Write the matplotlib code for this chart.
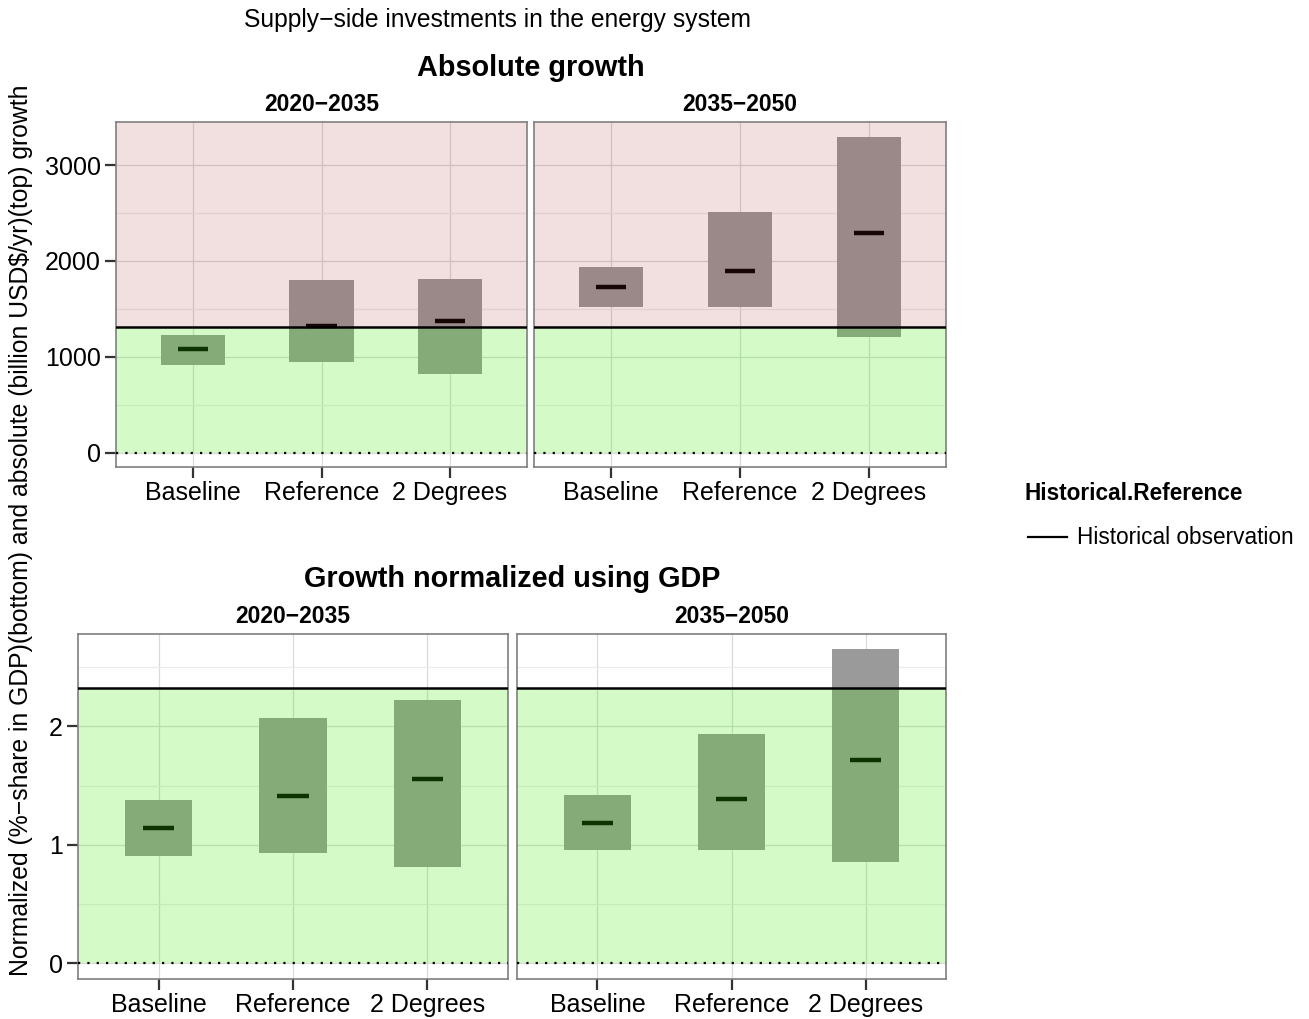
import matplotlib
matplotlib.use('Agg')
import matplotlib.pyplot as plt
import matplotlib.lines as mlines
import numpy as np

plt.rcParams['font.family'] = ['Liberation Sans', 'DejaVu Sans']

scenarios = ['Baseline', 'Reference', '2 Degrees']
periods = ['2020\u22122035', '2035\u22122050']

# absolute growth (billion USD$/yr)
abs_2020_low = [917, 945, 823]
abs_2020_med = [1080, 1318, 1372]
abs_2020_high = [1229, 1802, 1812]
abs_2035_low = [1517, 1524, 1211]
abs_2035_med = [1733, 1896, 2295]
abs_2035_high = [1941, 2514, 3288]

# normalized by GDP (%-share)
gdp_2020_low = [0.907, 0.935, 0.811]
gdp_2020_med = [1.146, 1.411, 1.555]
gdp_2020_high = [1.380, 2.073, 2.220]
gdp_2035_low = [0.952, 0.958, 0.854]
gdp_2035_med = [1.186, 1.383, 1.716]
gdp_2035_high = [1.417, 1.936, 2.657]

hist_abs = 1310
hist_gdp = 2.32

W, H = 1309, 1019
fig = plt.figure(figsize=(W / 100, H / 100), dpi=100)


def px_axes(x0, y0, x1, y1):
    return fig.add_axes([x0 / W, 1 - y1 / H, (x1 - x0) / W, (y1 - y0) / H])


def draw_panel(ax, low, med, high, hist, ylim, yticks, minor, pink, show_y):
    x = np.arange(1, len(scenarios) + 1)
    ax.set_axisbelow(True)
    ax.set_xlim(0.4, 3.6)
    ax.set_ylim(*ylim)
    ax.set_yticks(yticks)
    ax.set_yticks(minor, minor=True)
    ax.set_xticks(x)
    ax.set_xticklabels(scenarios, fontsize=18)
    ax.grid(True, which='major', color='#d9d9d9', lw=0.9)
    ax.grid(True, which='minor', axis='y', color='#ececec', lw=0.9)
    ax.tick_params(axis='both', which='major', length=8, width=1.6, color='#333333',
                   labelsize=18, pad=3)
    ax.tick_params(axis='x', which='major', pad=2)
    ax.tick_params(axis='both', which='minor', length=0)
    if not show_y:
        ax.tick_params(axis='y', which='both', left=False, labelleft=False)
    for s in ax.spines.values():
        s.set_color('#7f7f7f')
        s.set_linewidth(1.2)

    low, med, high = np.array(low), np.array(med), np.array(high)
    ax.bar(x, high - low, bottom=low, width=0.5, color='#9a9a9a', zorder=1)
    ax.hlines(med, x - 0.117, x + 0.117, color='black', lw=3.2, zorder=1.5)

    # background shading on top of bars (alpha layers as in the original)
    ax.axhspan(0, hist, color=(0.24, 0.94, 0.0), alpha=0.22, lw=0, zorder=2)
    if pink:
        ax.axhspan(hist, ylim[1], color=(0.65, 0.13, 0.13), alpha=0.14, lw=0, zorder=2)

    ax.axhline(hist, color='black', lw=1.8, zorder=3)
    ax.axhline(0, color='black', lw=1.6, ls=(0, (1, 3.2)), zorder=3)


# top panels: absolute growth
ax1 = px_axes(116, 122, 527, 467)
ax2 = px_axes(534, 122, 946, 467)
ylim_abs = (-146, 3448)
draw_panel(ax1, abs_2020_low, abs_2020_med, abs_2020_high, hist_abs, ylim_abs,
           [0, 1000, 2000, 3000], [500, 1500, 2500], True, True)
draw_panel(ax2, abs_2035_low, abs_2035_med, abs_2035_high, hist_abs, ylim_abs,
           [0, 1000, 2000, 3000], [500, 1500, 2500], True, False)

# bottom panels: normalized by GDP
ax3 = px_axes(78, 634, 508, 979)
ax4 = px_axes(517, 634, 946, 979)
ylim_gdp = (-0.133, 2.78)
draw_panel(ax3, gdp_2020_low, gdp_2020_med, gdp_2020_high, hist_gdp, ylim_gdp,
           [0, 1, 2], [0.5, 1.5, 2.5], False, True)
draw_panel(ax4, gdp_2035_low, gdp_2035_med, gdp_2035_high, hist_gdp, ylim_gdp,
           [0, 1, 2], [0.5, 1.5, 2.5], False, False)

for ax, p in zip([ax1, ax2, ax3, ax4], periods + periods):
    ax.set_title(p, fontsize=16.5, fontweight='bold', pad=8)

fig.text(498 / W, 1 - 20 / H, 'Supply\u2212side investments in the energy system',
         ha='center', va='center', fontsize=17.7)
fig.text(531 / W, 1 - 68 / H, 'Absolute growth', ha='center', va='center',
         fontsize=20.8, fontweight='bold')
fig.text(512 / W, 1 - 579 / H, 'Growth normalized using GDP', ha='center', va='center',
         fontsize=20.8, fontweight='bold')
fig.text(21 / W, 1 - 530 / H,
         'Normalized (%\u2212share in GDP)(bottom) and absolute (billion USD$/yr)(top) growth',
         rotation=90, ha='center', va='center', fontsize=17.8)

# legend
fig.text(1024 / W, 1 - 493 / H, 'Historical.Reference', ha='left', va='center',
         fontsize=16.3, fontweight='bold')
fig.add_artist(mlines.Line2D([1028 / W, 1067 / W], [1 - 537 / H, 1 - 537 / H],
                             color='black', lw=1.6))
fig.text(1077 / W, 1 - 537 / H, 'Historical observation', ha='left', va='center',
         fontsize=16.3)

fig.savefig('out.png', dpi=100)
